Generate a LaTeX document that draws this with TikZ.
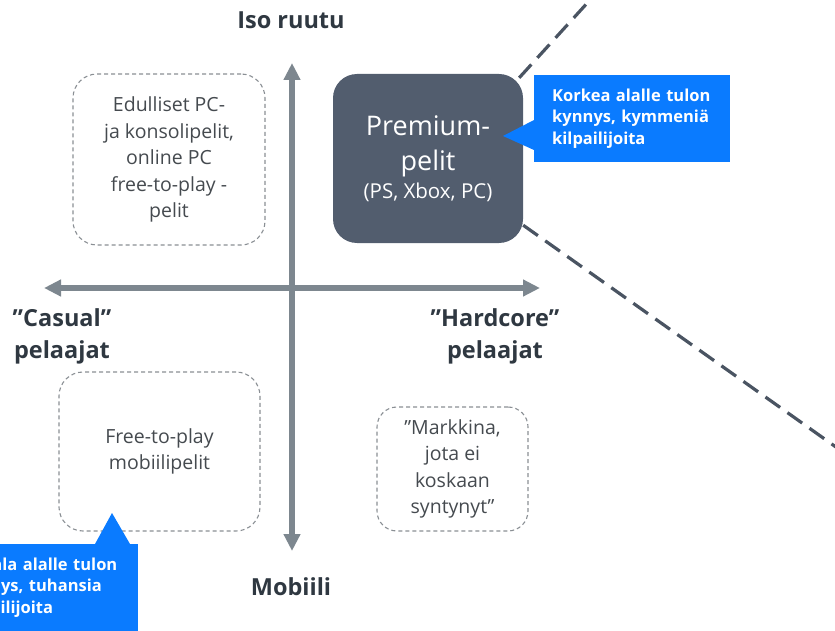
\documentclass[tikz,border=0pt]{standalone}
\usepackage{fontspec}
\setmainfont{Open Sans}
\usetikzlibrary{arrows.meta}

\definecolor{axisgrey}{HTML}{7D878F}
\definecolor{premfill}{HTML}{525D6E}
\definecolor{calloutblue}{HTML}{0A7BFF}
\definecolor{zoomline}{HTML}{4A5462}
\definecolor{labeltext}{HTML}{2F3841}
\definecolor{boxtext}{HTML}{454A4F}
\definecolor{boxborder}{HTML}{8A8F94}

\begin{document}
\begin{tikzpicture}[
    x=1pt, y=-1pt,
    line cap=butt,
    axis/.style={line width=5.5pt, draw=axisgrey,
        {Triangle[length=17pt,width=16pt]}-{Triangle[length=17pt,width=16pt]}},
    axislabel/.style={font=\fontsize{23.5}{32}\selectfont\bfseries, text=labeltext, align=center},
    quadbox/.style={draw=boxborder, line width=1.1pt, dash pattern=on 4pt off 3pt,
        rounded corners=24pt, text=boxtext, align=center,
        font=\fontsize{19.5}{26.5}\selectfont},
    premium/.style={fill=premfill, rounded corners=24pt, text=white, align=center,
        font=\fontsize{27}{35}\selectfont},
    callout/.style={fill=calloutblue, text=white, align=left, inner xsep=18pt, inner ysep=0pt,
        text width=160pt, minimum height=87pt, font=\fontsize{16.5}{21.5}\selectfont\bfseries},
    zoom/.style={draw=zoomline, line width=3.2pt, dash pattern=on 18pt off 9pt}
]

\useasboundingbox (0,0) rectangle (835,631);
\clip (0,0) rectangle (835,631);

% -------------------------------------------------
% Akselit
% -------------------------------------------------

\coordinate (ytop) at (292,63);
\coordinate (ybot) at (292,551);
\coordinate (xleft) at (44,288);
\coordinate (xright) at (540,288);

\draw[axis] (ybot)--(ytop);
\draw[axis] (xleft)--(xright);

% -------------------------------------------------
% Akselien nimet
% -------------------------------------------------

\node[axislabel] (iso)      at (291,20)  {Iso ruutu};
\node[axislabel] (mobiili)  at (291,587) {Mobiili};
\node[axislabel] (casual)   at (62,336)  {”Casual”\\pelaajat};
\node[axislabel] (hardcore) at (495,336) {”Hardcore”\\pelaajat};

% -------------------------------------------------
% Lohkot
% -------------------------------------------------

\node[quadbox, minimum width=192pt, minimum height=171pt] (edulliset) at (169,159.5)
    {Edulliset PC-\\ja konsolipelit,\\online PC\\free-to-play -\\pelit};

\node[premium, minimum width=190pt, minimum height=169pt] (prem) at (428,158.5)
    {Premium-\\pelit\\[-7pt]{\fontsize{20.5}{24}\selectfont (PS, Xbox, PC)}};

\node[quadbox, minimum width=201pt, minimum height=159pt] (mobiilipelit) at (159.5,451.5)
    {Free-to-play\\mobiilipelit};

\node[quadbox, rounded corners=20pt, minimum width=151pt, minimum height=124pt] (markkina) at (452.5,469)
    {”Markkina,\\jota ei\\koskaan\\syntynyt”};

% -------------------------------------------------
% Katkoviivat (zoomaus)
% -------------------------------------------------

\coordinate (zoomtop) at (600,-11);
\coordinate (zoombot) at (850,457);

\draw[zoom] ([xshift=-4pt,yshift=-4pt]prem.north east)--(zoomtop);
\draw[zoom] ([yshift=18pt]prem.south east)--(zoombot);

% -------------------------------------------------
% Huomiolaatikot
% -------------------------------------------------

\node[callout, anchor=north west] (korkea) at (534,75)
    {Korkea alalle tulon\\kynnys, kymmeniä\\kilpailijoita};
\fill[calloutblue] (korkea.west |- 0,120)--(503,136)--(korkea.west |- 0,150)--cycle;

\node[callout, anchor=north east] (matala) at (138,544)
    {Matala alalle tulon\\kynnys, tuhansia\\kilpailijoita};
\fill[calloutblue] (95,544)--(112,513)--(130,544)--cycle;

\end{tikzpicture}
\end{document}
